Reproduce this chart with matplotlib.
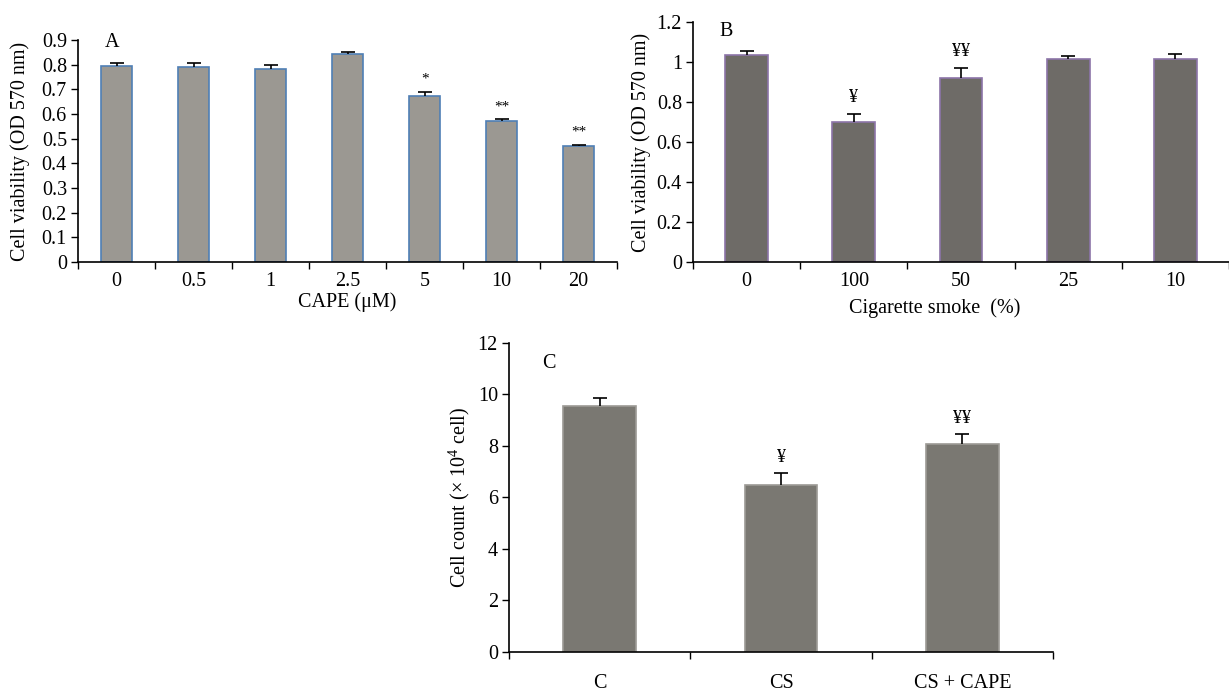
import matplotlib
matplotlib.use("Agg")
import matplotlib.pyplot as plt
import numpy as np

plt.rcParams['font.family'] = ['Liberation Serif', 'DejaVu Serif']
plt.rcParams['mathtext.fontset'] = 'custom'
plt.rcParams['mathtext.rm'] = 'Liberation Serif'

# panel A: CAPE dose
cape_labels = ['0', '0.5', '1', '2.5', '5', '10', '20']
cape_vals = [0.795, 0.792, 0.784, 0.842, 0.671, 0.571, 0.471]
cape_err = [0.013, 0.014, 0.016, 0.010, 0.019, 0.008, 0.005]
cape_marks = ['', '', '', '', '*', '**', '**']

# panel B: cigarette smoke
cs_labels = ['0', '100', '50', '25', '10']
cs_vals = [1.034, 0.701, 0.920, 1.014, 1.015]
cs_err = [0.023, 0.040, 0.050, 0.018, 0.024]
cs_marks = ['', '¥', '¥¥', '', '']

# panel C: cell count
cnt_labels = ['C', 'CS', 'CS + CAPE']
cnt_vals = [9.54, 6.49, 8.07]
cnt_err = [0.31, 0.46, 0.40]
cnt_marks = ['', '¥', '¥¥']

FS = 14.5


def barpanel(ax, labels, vals, err, marks, ymax, ystep, face, edge,
             ylabel, xlabel, letter, letter_xy, mark_off, mark_size, xpad):
    n = len(vals)
    x = np.arange(n) + 0.5
    ax.bar(x, vals, width=0.4, color=face, edgecolor=edge, linewidth=1.2, zorder=2)
    eb = ax.errorbar(x, vals, yerr=[np.zeros(n), err], fmt='none', ecolor='black',
                     elinewidth=1.2, capsize=5, capthick=1.2, zorder=3)
    eb[1][0].set_visible(False)  # no cap at the bar top
    for xi, v, e, m in zip(x, vals, err, marks):
        if m:
            ax.annotate(m, (xi, v + e), xytext=(0, mark_off), textcoords='offset points',
                        ha='center', va='center', fontsize=mark_size)
    ax.set_xlim(0, n)
    ax.set_ylim(0, ymax)
    yt = np.arange(0, ymax + ystep / 2, ystep)
    ax.set_yticks(yt)
    ax.set_yticklabels([f'{round(v, 2):g}' for v in yt])
    ax.set_xticks(np.arange(n + 1))
    ax.set_xticklabels([])
    ax.set_xticks(x, minor=True)
    ax.set_xticklabels(labels, minor=True)
    ax.tick_params(axis='x', which='minor', length=0, pad=xpad)
    ax.tick_params(axis='x', which='major', direction='out', length=5, width=1)
    ax.tick_params(axis='y', direction='out', length=5, width=1, pad=3)
    ax.tick_params(which='both', labelsize=FS)
    for s in ['top', 'right']:
        ax.spines[s].set_visible(False)
    for s in ['left', 'bottom']:
        ax.spines[s].set_linewidth(1.2)
    ax.set_ylabel(ylabel, fontsize=FS, labelpad=4)
    if xlabel:
        ax.set_xlabel(xlabel, fontsize=FS, labelpad=1)
    ax.text(letter_xy[0], letter_xy[1], letter, transform=ax.transAxes, fontsize=FS)


fig = plt.figure(figsize=(12.29, 6.93), dpi=100)

axA = fig.add_axes([0.0635, 0.622, 0.4386, 0.3203])
barpanel(axA, cape_labels, cape_vals, cape_err, cape_marks, 0.9, 0.1,
         '#9b9892', '#4f7fb5', 'Cell viability (OD 570 nm)', 'CAPE (μM)',
         'A', (0.05, 0.97), 9, 11, 7)
axA.yaxis.set_label_coords(-0.09, 0.5)

axB = fig.add_axes([0.5639, 0.622, 0.4361, 0.3463])
barpanel(axB, cs_labels, cs_vals, cs_err, cs_marks, 1.2, 0.2,
         '#6e6b67', '#8c74a8', 'Cell viability (OD 570 nm)', 'Cigarette smoke  (%)',
         'B', (0.05, 0.94), 12, 13, 7)
axB.xaxis.set_label_coords(0.45, -0.15)

axC = fig.add_axes([0.4142, 0.0592, 0.4426, 0.4459])
barpanel(axC, cnt_labels, cnt_vals, cnt_err, cnt_marks, 12, 2,
         '#7a7872', '#9c9a95', r'Cell count ($\times$ 10$^{4}$ cell)', None,
         'C', (0.06, 0.92), 11, 13, 16)

fig.savefig('out.png', dpi=100)
